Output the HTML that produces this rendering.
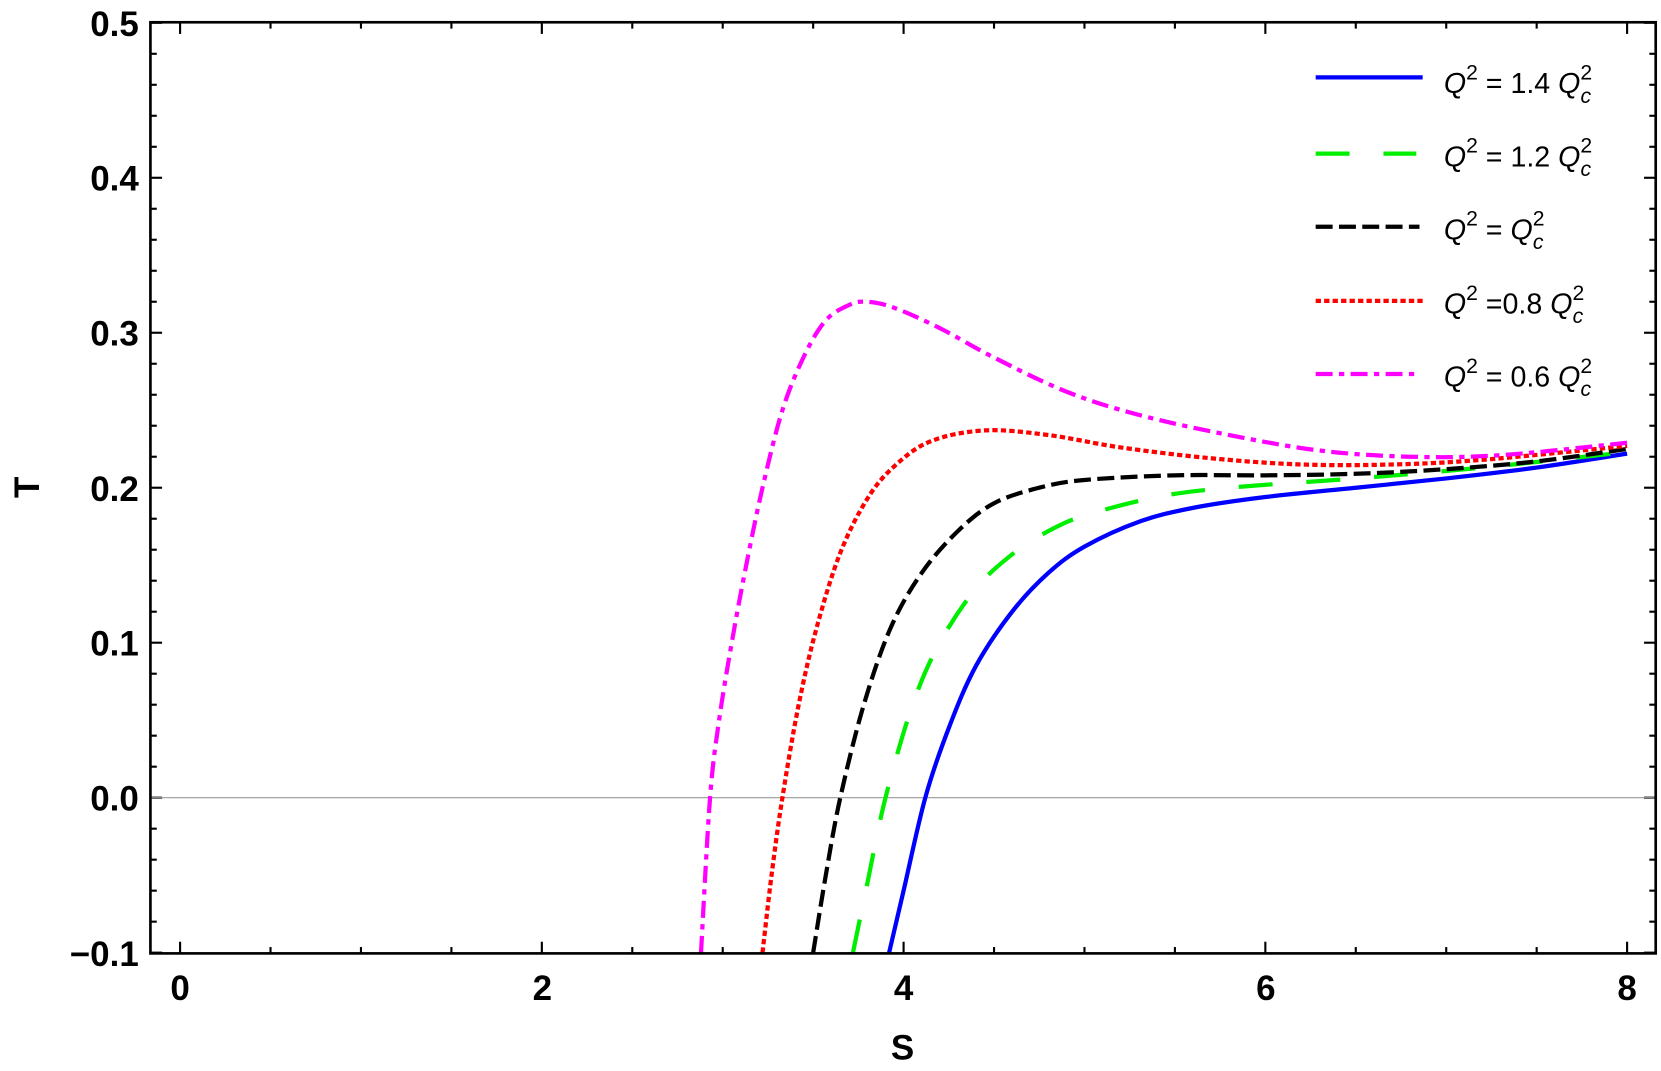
<!DOCTYPE html>
<html><head><meta charset="utf-8"><style>
html,body{margin:0;padding:0;background:#fff;}
svg{display:block;}
text{font-family:"Liberation Sans",sans-serif;}
</style></head><body>
<svg id="s" width="1661" height="1071" viewBox="0 0 1568 1011" xmlns="http://www.w3.org/2000/svg">
<rect width="1568" height="1011" fill="#fff"/>
<g id="ticks" stroke="#000" stroke-width="2"></g>
<line x1="142" y1="753" x2="1563" y2="753" stroke="#999" stroke-width="1"/>
<g id="curves" fill="none" stroke-width="4"></g>
<rect x="142" y="21" width="1421" height="879" fill="none" stroke="#000" stroke-width="2.5"/>
<g font-weight="bold" font-size="33" text-anchor="end">
<text x="131" y="34">0.5</text><text x="131" y="180">0.4</text><text x="131" y="326">0.3</text>
<text x="131" y="473">0.2</text><text x="131" y="619">0.1</text><text x="131" y="765">0.0</text><text x="131" y="912">−0.1</text>
</g>
<g font-weight="bold" font-size="33" text-anchor="middle">
<text x="170" y="944">0</text><text x="512" y="944">2</text><text x="853" y="944">4</text><text x="1195" y="944">6</text><text x="1536" y="944">8</text>
<text x="852" y="1000">S</text>
<text x="0" y="0" transform="translate(37,460) rotate(-90)">T</text>
</g>
<g font-size="27">
<line x1="1242" y1="73" x2="1343" y2="73" stroke="#0000ff" stroke-width="4"/>
<line x1="1242" y1="145" x2="1337" y2="145" stroke="#00ee00" stroke-width="4" stroke-dasharray="32,32"/>
<line x1="1242" y1="214" x2="1340" y2="214" stroke="#000" stroke-width="4" stroke-dasharray="16,6"/>
<line x1="1242" y1="284" x2="1343" y2="284" stroke="#ff0000" stroke-width="4" stroke-dasharray="5,3"/>
<line x1="1242" y1="353" x2="1338" y2="353" stroke="#ff00ff" stroke-width="4" stroke-dasharray="16,6,5,6"/>
<text x="1363" y="88"><tspan font-style="italic">Q</tspan><tspan dy="-13" font-size="20">2</tspan><tspan dy="13"> = 1.4  </tspan><tspan font-style="italic">Q</tspan><tspan font-size="20" dy="-13">2</tspan><tspan font-size="20" dx="-11" dy="22" font-style="italic">c</tspan></text>
<text x="1363" y="157"><tspan font-style="italic">Q</tspan><tspan dy="-13" font-size="20">2</tspan><tspan dy="13"> = 1.2  </tspan><tspan font-style="italic">Q</tspan><tspan font-size="20" dy="-13">2</tspan><tspan font-size="20" dx="-11" dy="22" font-style="italic">c</tspan></text>
<text x="1363" y="226"><tspan font-style="italic">Q</tspan><tspan dy="-13" font-size="20">2</tspan><tspan dy="13"> = </tspan><tspan font-style="italic">Q</tspan><tspan font-size="20" dy="-13">2</tspan><tspan font-size="20" dx="-11" dy="22" font-style="italic">c</tspan></text>
<text x="1363" y="296"><tspan font-style="italic">Q</tspan><tspan dy="-13" font-size="20">2</tspan><tspan dy="13"> =0.8  </tspan><tspan font-style="italic">Q</tspan><tspan font-size="20" dy="-13">2</tspan><tspan font-size="20" dx="-11" dy="22" font-style="italic">c</tspan></text>
<text x="1363" y="365"><tspan font-style="italic">Q</tspan><tspan dy="-13" font-size="20">2</tspan><tspan dy="13"> = 0.6  </tspan><tspan font-style="italic">Q</tspan><tspan font-size="20" dy="-13">2</tspan><tspan font-size="20" dx="-11" dy="22" font-style="italic">c</tspan></text>
</g>
</svg>
<script>
const NS="http://www.w3.org/2000/svg";
const X=s=>170+s*170.75, Y=t=>753-t*1463;
const tk=document.getElementById('ticks');
function ln(x1,y1,x2,y2){const l=document.createElementNS(NS,'line');l.setAttribute('x1',x1);l.setAttribute('y1',y1);l.setAttribute('x2',x2);l.setAttribute('y2',y2);tk.appendChild(l);}
for(let i=0;i<=16;i++){const x=X(i*0.5),L=i%4==0?11:6;ln(x,900,x,900-L);ln(x,21,x,21+L);}
for(let i=0;i<=30;i++){const t=-0.1+i*0.02,y=Y(t),L=i%5==0?11:6;ln(142,y,142+L,y);ln(1563,y,1563-L,y);}
const data=[
["#0000ff","",[[3.92,-0.1],[4.0,-0.06],[4.12,0],[4.25,0.045],[4.4,0.085],[4.6,0.12],[4.8,0.145],[5.0,0.162],[5.3,0.178],[5.6,0.187],[6,0.194],[6.5,0.2],[7,0.206],[7.5,0.213],[8,0.222]]],
["#00ee00","32,32",[[3.72,-0.1],[3.8,-0.055],[3.9,0],[4.05,0.06],[4.2,0.1],[4.4,0.135],[4.6,0.157],[4.8,0.172],[5.0,0.182],[5.4,0.194],[5.8,0.2],[6.5,0.206],[7.2,0.213],[8,0.223]]],
["#000","16,6",[[3.5,-0.1],[3.57,-0.05],[3.65,0],[3.78,0.06],[3.93,0.11],[4.1,0.145],[4.3,0.172],[4.5,0.19],[4.75,0.2],[5,0.205],[5.5,0.208],[6,0.208],[6.5,0.209],[7,0.212],[7.5,0.217],[8,0.225]]],
["#ff0000","5,3",[[3.22,-0.1],[3.27,-0.05],[3.33,0],[3.42,0.06],[3.52,0.11],[3.65,0.158],[3.8,0.193],[3.95,0.214],[4.15,0.23],[4.45,0.237],[4.8,0.234],[5.2,0.226],[5.7,0.219],[6.2,0.215],[6.7,0.215],[7.2,0.218],[8,0.227]]],
["#ff00ff","16,6,5,6",[[2.88,-0.1],[2.93,0],[2.98,0.05],[3.05,0.1],[3.13,0.15],[3.22,0.2],[3.33,0.25],[3.45,0.285],[3.57,0.308],[3.7,0.318],[3.8,0.32],[3.95,0.316],[4.2,0.303],[4.5,0.284],[4.9,0.262],[5.3,0.247],[5.8,0.234],[6.3,0.224],[6.8,0.22],[7.3,0.221],[8,0.229]]]];
const g=document.getElementById('curves');
for(const [c,d,p] of data){const P=p.map(([s,t])=>[X(s),Y(t)]);let s="M"+P[0][0]+","+P[0][1];
for(let i=0;i<P.length-1;i++){const p0=P[i-1]||P[i],p1=P[i],p2=P[i+1],p3=P[i+2]||P[i+1];
s+=` C${p1[0]+(p2[0]-p0[0])/6},${p1[1]+(p2[1]-p0[1])/6} ${p2[0]-(p3[0]-p1[0])/6},${p2[1]-(p3[1]-p1[1])/6} ${p2[0]},${p2[1]}`;}
const e=document.createElementNS(NS,'path');e.setAttribute('d',s);e.setAttribute('stroke',c);if(d)e.setAttribute('stroke-dasharray',d);g.appendChild(e);}
</script>
</body></html>
